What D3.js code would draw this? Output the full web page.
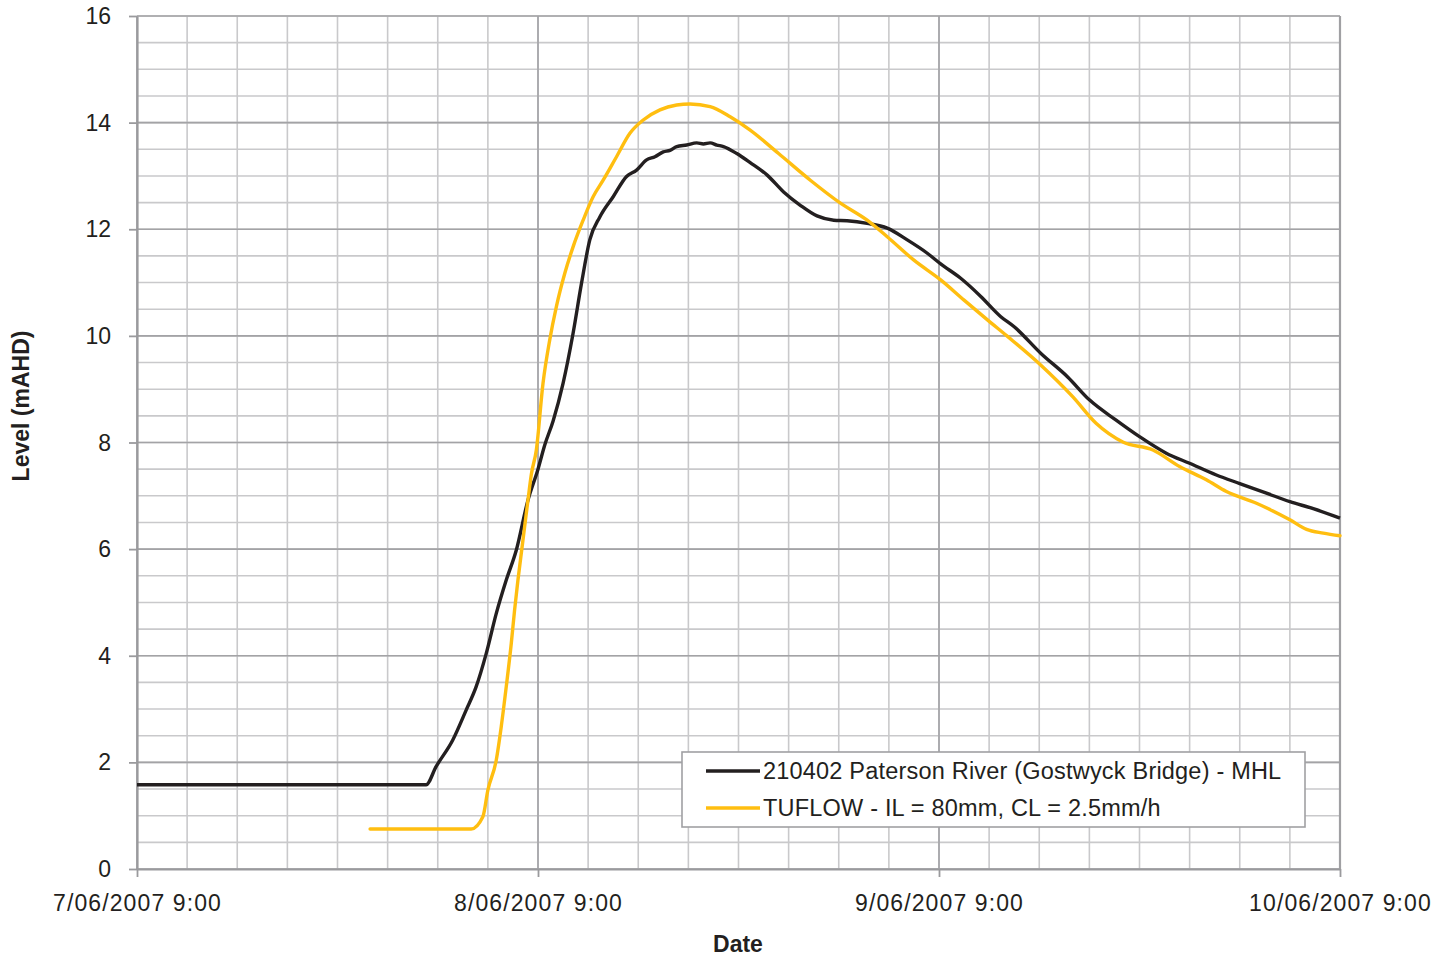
<!DOCTYPE html>
<html>
<head>
<meta charset="utf-8">
<script src="https://cdn.jsdelivr.net/npm/d3@7"></script>
<style>
  html, body { margin: 0; padding: 0; background: #fff; }
  svg { display: block; font-family: "Liberation Sans", Arial, sans-serif; }
</style>
</head>
<body>
<svg id="chart" width="1434" height="960"></svg>
<script>
// ---- Data (hours after 7/06/2007 9:00, level in mAHD) ----
const startDate = new Date(2007, 5, 7, 9, 0);
const endDate = new Date(2007, 5, 10, 9, 0);
const xTickLabels = ["7/06/2007 9:00", "8/06/2007 9:00", "9/06/2007 9:00", "10/06/2007 9:00"];
const yTickValues = [0, 2, 4, 6, 8, 10, 12, 14, 16];
const seriesNames = ["210402 Paterson River (Gostwyck Bridge) - MHL", "TUFLOW - IL = 80mm, CL = 2.5mm/h"];

const mhlHours = [0, 17.3, 17.9, 18.9, 19.7, 20.3, 20.9, 21.5, 22.1, 22.7, 23.4, 24.0, 24.4, 24.9, 25.5, 26.1, 26.6, 27.1, 27.7, 28.5, 29.3, 29.9, 30.5, 31.0, 31.5, 31.9, 32.3, 32.9, 33.5, 33.9, 34.3, 34.7, 35.1, 35.9, 36.7, 37.7, 38.7, 39.7, 40.7, 41.7, 42.5, 43.7, 44.9, 46.1, 47.3, 48.1, 49.3, 50.5, 51.7, 52.5, 54.1, 55.7, 57.0, 58.6, 60.0, 61.6, 63.0, 64.6, 66.0, 67.6, 69.0, 70.4, 72.0];
const mhlLevel = [1.58, 1.58, 1.92, 2.42, 2.98, 3.42, 4.04, 4.79, 5.42, 5.98, 6.92, 7.50, 7.95, 8.40, 9.11, 10.05, 10.98, 11.80, 12.23, 12.61, 12.99, 13.11, 13.30, 13.36, 13.45, 13.48, 13.55, 13.58, 13.62, 13.60, 13.62, 13.58, 13.55, 13.42, 13.25, 13.02, 12.70, 12.45, 12.25, 12.17, 12.16, 12.11, 12.02, 11.80, 11.55, 11.35, 11.08, 10.74, 10.36, 10.17, 9.67, 9.23, 8.80, 8.42, 8.11, 7.80, 7.61, 7.39, 7.23, 7.05, 6.89, 6.76, 6.58];

const tuflowHours = [13.95, 20.0, 20.7, 21.0, 21.5, 21.8, 22.1, 22.4, 22.6, 22.8, 23.1, 23.4, 23.6, 23.9, 24.3, 24.7, 25.1, 25.6, 26.1, 26.7, 27.3, 27.9, 28.7, 29.5, 30.3, 31.3, 32.3, 33.1, 34.3, 35.5, 36.7, 38.4, 40.3, 42.1, 43.7, 44.9, 46.5, 48.1, 49.5, 50.9, 52.1, 54.1, 56.0, 57.4, 59.0, 60.8, 62.4, 64.0, 65.2, 67.0, 69.0, 70.0, 71.0, 72.0];
const tuflowLevel = [0.75, 0.75, 0.98, 1.48, 2.04, 2.67, 3.42, 4.23, 4.86, 5.42, 6.17, 6.92, 7.40, 7.86, 9.11, 9.92, 10.55, 11.17, 11.67, 12.17, 12.61, 12.92, 13.36, 13.80, 14.05, 14.24, 14.33, 14.35, 14.30, 14.11, 13.86, 13.42, 12.92, 12.49, 12.17, 11.86, 11.42, 11.05, 10.67, 10.30, 9.99, 9.45, 8.86, 8.36, 8.01, 7.86, 7.55, 7.30, 7.08, 6.86, 6.55, 6.37, 6.30, 6.25];

// ---- Build ----
const hourMs = 3600 * 1000;
const toDate = h => new Date(startDate.getTime() + h * hourMs);
const mhl = mhlHours.map((h, i) => ({ t: toDate(h), v: mhlLevel[i] }));
const tuflow = tuflowHours.map((h, i) => ({ t: toDate(h), v: tuflowLevel[i] }));

const svg = d3.select("#chart");
const margin = { left: 137, right: 94, top: 16, bottom: 91 };
const W = 1434, H = 960;
const x = d3.scaleTime().domain([startDate, endDate]).range([margin.left, W - margin.right]);
const y = d3.scaleLinear().domain([0, 16]).range([H - margin.bottom, margin.top]);

const minorX = d3.range(0, 73, 3).map(toDate);
const majorX = d3.range(0, 73, 24).map(toDate);
const minorY = d3.range(0, 16.01, 0.5);

const grid = svg.append("g");
grid.selectAll(".hmin").data(minorY).enter().append("line")
  .attr("x1", x.range()[0]).attr("x2", x.range()[1])
  .attr("y1", d => y(d)).attr("y2", d => y(d))
  .attr("stroke", "#c9c9cb").attr("stroke-width", 1.6);
grid.selectAll(".vmin").data(minorX).enter().append("line")
  .attr("y1", y.range()[0]).attr("y2", y.range()[1])
  .attr("x1", d => x(d)).attr("x2", d => x(d))
  .attr("stroke", "#c9c9cb").attr("stroke-width", 1.6);
grid.selectAll(".hmaj").data(yTickValues).enter().append("line")
  .attr("x1", x.range()[0]).attr("x2", x.range()[1])
  .attr("y1", d => y(d)).attr("y2", d => y(d))
  .attr("stroke", "#a3a3a6").attr("stroke-width", 1.6);
grid.selectAll(".vmaj").data(majorX).enter().append("line")
  .attr("y1", y.range()[0]).attr("y2", y.range()[1])
  .attr("x1", d => x(d)).attr("x2", d => x(d))
  .attr("stroke", "#a3a3a6").attr("stroke-width", 1.6);
grid.append("line")
  .attr("x1", x.range()[1]).attr("x2", x.range()[1])
  .attr("y1", y.range()[0]).attr("y2", y.range()[1])
  .attr("stroke", "#a0a0a3").attr("stroke-width", 2.2);

const xAxis = d3.axisBottom(x).tickValues(majorX)
  .tickFormat((d, i) => xTickLabels[i]).tickSize(8).tickSizeOuter(0).tickPadding(18);
const yAxis = d3.axisLeft(y).tickValues(yTickValues)
  .tickFormat(d3.format("d")).tickSize(8).tickSizeOuter(0).tickPadding(18);

const gx = svg.append("g").attr("transform", `translate(0,${y(0)})`).call(xAxis);
const gy = svg.append("g").attr("transform", `translate(${x.range()[0]},0)`).call(yAxis);
[gx, gy].forEach(g => {
  g.select(".domain").attr("stroke", "#9a9a9d").attr("stroke-width", 2.2);
  g.selectAll(".tick line").attr("stroke", "#9a9a9d").attr("stroke-width", 1.8);
  g.selectAll(".tick text").attr("fill", "#231f20")
    .style("font-family", "'Liberation Sans', Arial, sans-serif").style("font-size", "23px");
});
gx.selectAll(".tick text").style("letter-spacing", "1.1px");
gy.selectAll(".tick text").attr("dy", "0.33em");

svg.append("text").attr("x", 738).attr("y", 952).attr("text-anchor", "middle")
  .attr("fill", "#231f20").style("font-size", "23px").style("font-weight", "bold").text("Date");
svg.append("text").attr("transform", "translate(29,406) rotate(-90)").attr("text-anchor", "middle")
  .attr("fill", "#231f20").style("font-size", "23px").style("font-weight", "bold").text("Level (mAHD)");

const line = d3.line().x(d => x(d.t)).y(d => y(d.v)).curve(d3.curveMonotoneX);
svg.append("path").datum(mhl).attr("d", line)
  .attr("fill", "none").attr("stroke", "#231f20").attr("stroke-width", 3.4).attr("stroke-linejoin", "round");
svg.append("path").datum(tuflow).attr("d", line)
  .attr("fill", "none").attr("stroke", "#ffbe10").attr("stroke-width", 3.4).attr("stroke-linejoin", "round").attr("stroke-linecap", "round");

const lg = svg.append("g");
lg.append("rect").attr("x", 682).attr("y", 752).attr("width", 623).attr("height", 75)
  .attr("fill", "#fff").attr("stroke", "#a0a0a3").attr("stroke-width", 1.6);
const legendColors = ["#231f20", "#ffbe10"];
seriesNames.forEach((name, i) => {
  const yy = 771 + i * 37;
  lg.append("line").attr("x1", 706).attr("x2", 760).attr("y1", yy).attr("y2", yy)
    .attr("stroke", legendColors[i]).attr("stroke-width", 3.4);
  lg.append("text").attr("x", 763).attr("y", yy).attr("dy", "0.36em")
    .attr("fill", "#231f20").style("font-size", "23.5px").style("letter-spacing", "0.2px").text(name);
});
</script>
</body>
</html>
